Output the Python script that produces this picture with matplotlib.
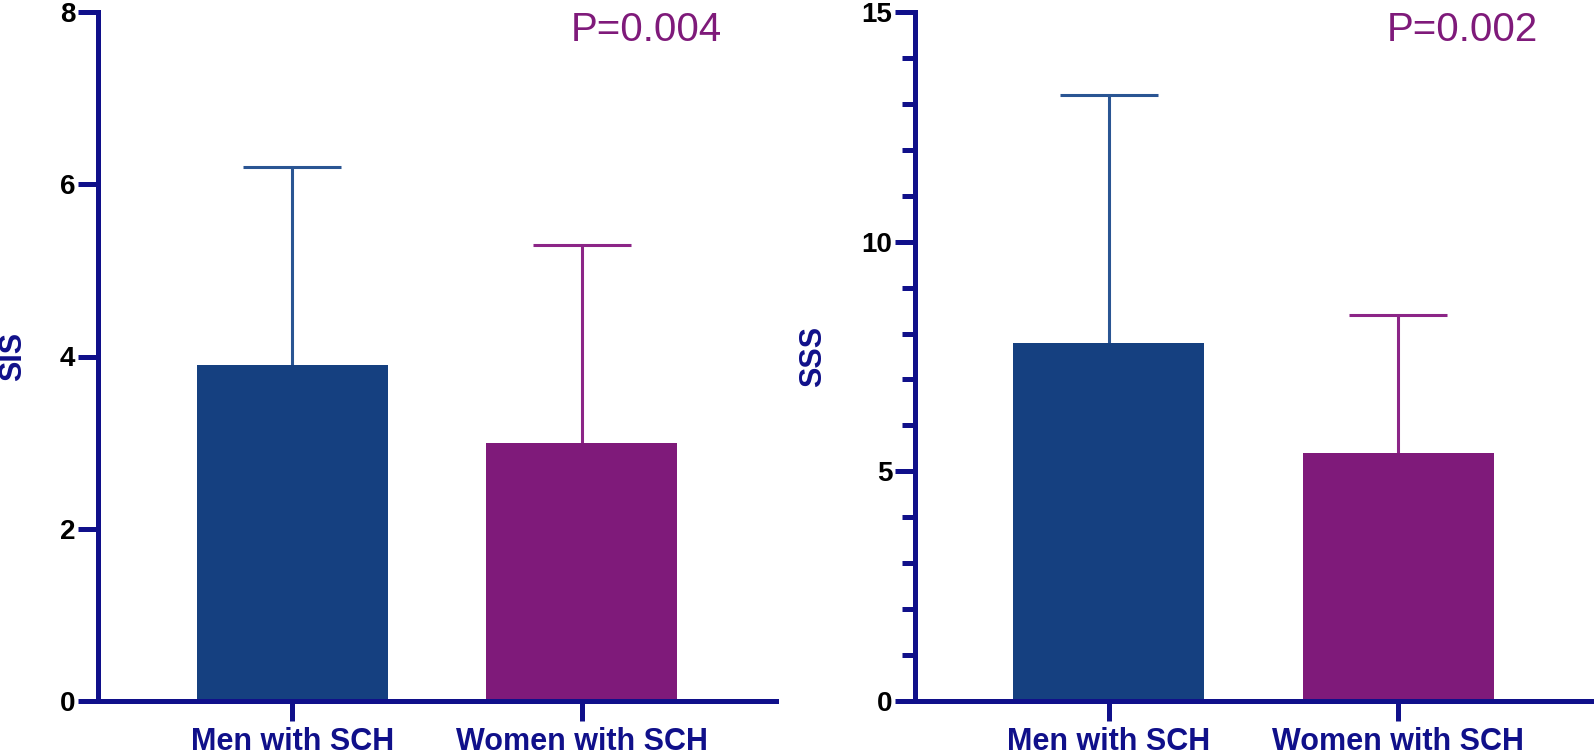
import numpy as np
import matplotlib
matplotlib.use("Agg")
import matplotlib.pyplot as plt
from matplotlib.ticker import MultipleLocator

plt.rcParams['font.family'] = ['Liberation Sans', 'DejaVu Sans']

groups = ["Men with SCH", "Women with SCH"]
sis_mean = [3.9, 3.0]
sis_sd = [2.3, 2.3]
sss_mean = [7.8, 5.4]
sss_sd = [5.4, 3.0]
p_values = ["P=0.004", "P=0.002"]

bar_colors = ["#154080", "#7F1A7A"]
err_colors = ["#2A5593", "#8C2587"]
navy = "#10108A"


def draw_panel(ax, means, sds, ylabel, ymax, major, minor, ptext, label_x):
    x = np.arange(len(groups))
    ax.bar(x, means, width=0.66, color=bar_colors, zorder=2)
    for i in range(len(x)):
        eb = ax.errorbar(x[i], means[i], yerr=[[0], [sds[i]]], color=err_colors[i],
                         elinewidth=2.2, capsize=35, capthick=2.2, zorder=1)
        # hide the cap sitting on top of the bar, keep only the upper one
        for cap in eb[1]:
            if np.isclose(cap.get_ydata()[0], means[i]):
                cap.set_visible(False)
    ax.set_xlim(-0.67, 1.67)
    ax.set_ylim(0, ymax)
    ax.yaxis.set_major_locator(MultipleLocator(major))
    if minor:
        ax.yaxis.set_minor_locator(MultipleLocator(minor))
    ax.set_xticks(x)
    ax.set_xticklabels(groups, fontsize=22, fontweight="bold", color=navy)
    ax.set_yticks(np.arange(0, ymax + 1, major))
    for lbl in ax.get_yticklabels():
        lbl.set_fontsize(20)
        lbl.set_fontweight("bold")
    for s in ["top", "right"]:
        ax.spines[s].set_visible(False)
    for s in ["left", "bottom"]:
        ax.spines[s].set_color(navy)
        ax.spines[s].set_linewidth(3.6)
    ax.tick_params(axis="both", which="major", length=14.4, width=3.6, color=navy, pad=2)
    ax.tick_params(axis="y", which="minor", length=9.4, width=3.6, color=navy)
    ax.tick_params(axis="x", pad=4)
    ax.set_ylabel(ylabel, fontsize=22, fontweight="bold", color=navy)
    ax.yaxis.set_label_coords(label_x, 0.5)
    ax.text(0.808, 0.974, ptext, transform=ax.transAxes, ha="center", va="center",
            fontsize=29, color="#7F1A7A")


fig = plt.figure(figsize=(15.94, 7.56), dpi=100)
ax1 = fig.add_axes([98 / 1594, 1 - 701 / 756, 678 / 1594, 689 / 756])
ax2 = fig.add_axes([915 / 1594, 1 - 701 / 756, 677 / 1594, 689 / 756])

draw_panel(ax1, sis_mean, sis_sd, "SIS", 8, 2, None, p_values[0], -0.103)
draw_panel(ax2, sss_mean, sss_sd, "SSS", 15, 5, 1, p_values[1], -0.129)

fig.savefig("out.png", dpi=100)
